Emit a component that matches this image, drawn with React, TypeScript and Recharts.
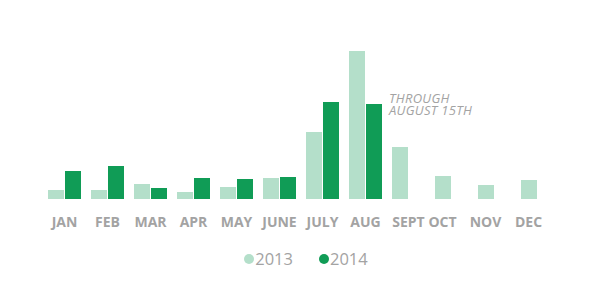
import { Bar, BarChart, LabelList, XAxis, YAxis } from "recharts";

const MONTHS = ["JAN", "FEB", "MAR", "APR", "MAY", "JUNE", "JULY", "AUG", "SEPT", "OCT", "NOV", "DEC"];
const SALES_2013 = [9, 9, 15, 7, 12, 21, 67, 148, 52, 23, 14, 19];
const SALES_2014: (number | null)[] = [28, 33, 11, 21, 20, 22, 97, 95, null, null, null, null];
const NOTE_LINES = ["THROUGH", "AUGUST 15TH"];
const NOTE_MONTH = "AUG";

const LIGHT = "#b4dfca";
const DARK = "#109c56";
const GREY = "#a3a3a3";

// months with only one bar get their label centred under that bar
const SINGLE_BAR_SHIFT = ["OCT", "NOV", "DEC"];

const data = MONTHS.map((month, i) => ({
  month,
  y2013: SALES_2013[i],
  y2014: SALES_2014[i],
}));

function MonthTick(props: any) {
  const { x, y, payload } = props;
  const dx = SINGLE_BAR_SHIFT.includes(payload.value) ? -9 : 0;
  return (
    <text
      x={x + dx}
      y={y + 20}
      textAnchor="middle"
      fill={GREY}
      fontFamily="'Open Sans', sans-serif"
      fontWeight={700}
      fontSize={14}
    >
      {payload.value}
    </text>
  );
}

function NoteLabel(props: any) {
  const { x, y, width, index } = props;
  if (MONTHS[index] !== NOTE_MONTH) return null;
  const left = x + width + 7;
  return (
    <g fill={GREY} fontFamily="'Open Sans', sans-serif" fontStyle="italic" fontSize={13} letterSpacing={0.3}>
      <text x={left} y={y - 1}>{NOTE_LINES[0]}</text>
      <text x={left} y={y + 10.5}>{NOTE_LINES[1]}</text>
    </g>
  );
}

export default function App() {
  return (
    <div style={{ position: "absolute", left: 0, top: 0, width: 612, height: 300, background: "#fff" }}>
      <BarChart
        width={612}
        height={300}
        data={data}
        margin={{ top: 51, right: 53, bottom: 71, left: 43 }}
        barSize={16}
        barGap={1}
      >
        <YAxis hide domain={[0, 148]} />
        <XAxis dataKey="month" axisLine={false} tickLine={false} interval={0} height={30} tick={<MonthTick />} />
        <Bar dataKey="y2013" fill={LIGHT} isAnimationActive={false} />
        <Bar dataKey="y2014" fill={DARK} isAnimationActive={false}>
          <LabelList dataKey="y2014" content={<NoteLabel />} />
        </Bar>
      </BarChart>
      <div
        style={{
          position: "absolute",
          top: 249,
          left: 0,
          width: 612,
          display: "flex",
          justifyContent: "center",
          gap: 26,
          fontFamily: "'Open Sans', sans-serif",
          fontSize: 16.5,
          color: GREY,
          lineHeight: "20px",
        }}
      >
        {[
          { name: "2013", color: LIGHT },
          { name: "2014", color: DARK },
        ].map((item) => (
          <span key={item.name} style={{ display: "flex", alignItems: "center" }}>
            <span
              style={{ width: 10, height: 10, borderRadius: 5, background: item.color, marginRight: 1, display: "inline-block" }}
            />
            {item.name}
          </span>
        ))}
      </div>
    </div>
  );
}
